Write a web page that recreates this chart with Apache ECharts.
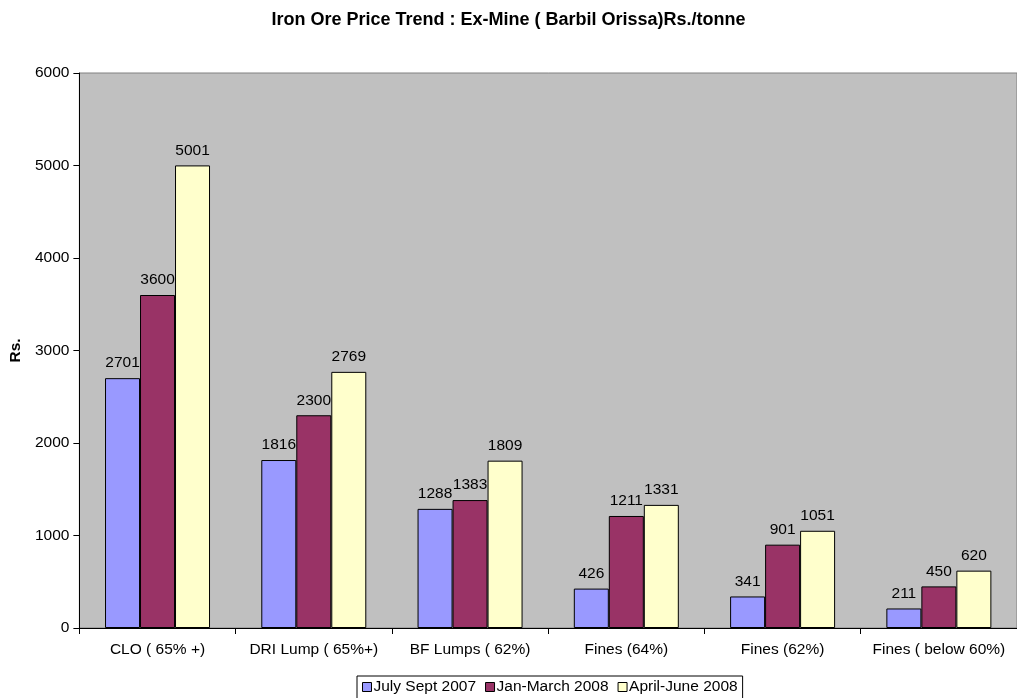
<!DOCTYPE html>
<html>
<head>
<meta charset="utf-8">
<script src="https://cdn.jsdelivr.net/npm/echarts@6/dist/echarts.min.js"></script>
<style>
  html, body { margin: 0; padding: 0; background: #fff; }
  #chart { width: 1017px; height: 698px; }
</style>
</head>
<body>
<div id="chart"></div>
<script>
// Ore grades and ex-mine prices (Rs./tonne) by period
const categories = ['CLO ( 65% +)', 'DRI Lump ( 65%+)', 'BF Lumps ( 62%)', 'Fines (64%)', 'Fines (62%)', 'Fines ( below 60%)'];
const julySept2007 = [2701, 1816, 1288, 426, 341, 211];
const janMarch2008 = [3600, 2300, 1383, 1211, 901, 450];
const aprilJune2008 = [5001, 2769, 1809, 1331, 1051, 620];
const seriesNames = ['July Sept 2007', 'Jan-March 2008', 'April-June 2008'];
const seriesColors = ['#9999FF', '#993366', '#FFFFCC'];
const yTicks = [0, 1000, 2000, 3000, 4000, 5000, 6000];

const font = 'Liberation Sans, Arial, sans-serif';
const fs = 15.5;
const chart = echarts.init(document.getElementById('chart'));

const makeSeries = (name, data, color) => ({
  name: name,
  type: 'bar',
  data: data,
  barWidth: 35,
  barGap: '0%',
  itemStyle: { color: color, borderColor: '#000', borderWidth: 1 },
  label: {
    show: true,
    position: 'top',
    distance: 7,
    color: '#000',
    fontFamily: font,
    fontSize: fs
  }
});

chart.setOption({
  animation: false,
  title: {
    text: 'Iron Ore Price Trend : Ex-Mine ( Barbil Orissa)Rs./tonne',
    left: 'center',
    top: 6,
    textStyle: { fontFamily: font, fontSize: 18, fontWeight: 'bold', color: '#000' }
  },
  legend: {
    data: seriesNames,
    top: 676,
    left: 357,
    icon: 'rect',
    itemWidth: 9,
    itemHeight: 9,
    itemGap: 9,
    padding: [3, 5, 6, 5],
    borderColor: '#000',
    borderWidth: 1,
    borderRadius: 0,
    textStyle: { fontFamily: font, fontSize: fs, color: '#000', padding: [0, 0, 0, -3] },
    itemStyle: { borderColor: '#000', borderWidth: 1 }
  },
  grid: {
    left: 78,
    top: 73,
    width: 942,
    bottom: 70,
    show: true,
    backgroundColor: '#C0C0C0',
    borderColor: '#808080',
    borderWidth: 1,
    containLabel: false
  },
  xAxis: {
    type: 'category',
    data: categories,
    axisLine: { lineStyle: { color: '#000', width: 1 } },
    axisTick: { show: true, interval: 0, length: 6, lineStyle: { color: '#000' } },
    axisLabel: { interval: 0, hideOverlap: false, fontFamily: font, fontSize: fs, color: '#000', margin: 14 },
    splitLine: { show: false }
  },
  yAxis: {
    type: 'value',
    min: yTicks[0],
    max: yTicks[yTicks.length - 1],
    interval: 1000,
    name: 'Rs.',
    nameLocation: 'middle',
    nameGap: 53,
    nameTextStyle: { fontFamily: font, fontSize: fs, fontWeight: 'bold', color: '#000' },
    axisLine: { show: true, lineStyle: { color: '#000', width: 1 } },
    axisTick: { show: true, length: 6, lineStyle: { color: '#000' } },
    axisLabel: {
      fontFamily: font, fontSize: fs, color: '#000', margin: 10,
      formatter: v => String(v)
    },
    splitLine: { show: false }
  },
  series: [
    makeSeries(seriesNames[0], julySept2007, seriesColors[0]),
    makeSeries(seriesNames[1], janMarch2008, seriesColors[1]),
    makeSeries(seriesNames[2], aprilJune2008, seriesColors[2])
  ]
});
</script>
</body>
</html>
